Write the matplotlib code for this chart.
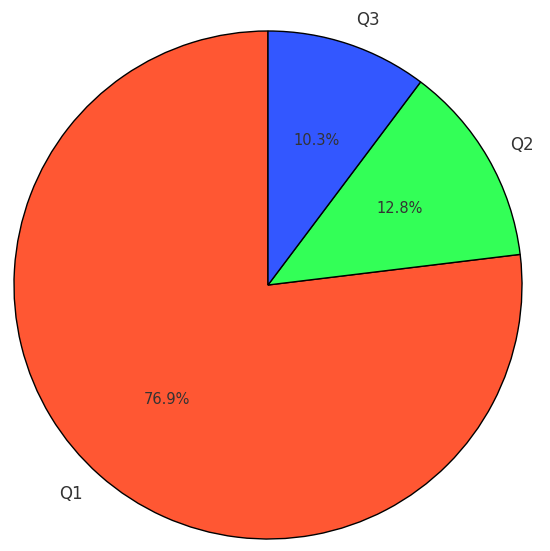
import matplotlib.pyplot as plt

# Datos del gráfico
etiquetas = ["Q1", "Q2", "Q3"]
valores = [30, 5, 4]
colores = ["#FF5733", "#33FF57", "#3357FF"]

fig = plt.figure(figsize=(5.5, 5.51), dpi=100)
# centro en (268, 285) px, radio ~254 px
ax = fig.add_axes([(268 - 254) / 550, (551 - 285 - 254) / 551, 508 / 550, 508 / 551])

wedges, textos, autotextos = ax.pie(
    valores,
    labels=etiquetas,
    colors=colores,
    autopct="%1.1f%%",
    startangle=90,
    wedgeprops={"edgecolor": "black", "linewidth": 1},
    textprops={"color": "#333333"},
)
for t in textos:
    t.set_fontsize(12)
for t in autotextos:
    t.set_fontsize(10.5)

ax.set_xlim(-1, 1)
ax.set_ylim(-1, 1)
ax.set_aspect("equal")

fig.savefig("out.png", dpi=100)
